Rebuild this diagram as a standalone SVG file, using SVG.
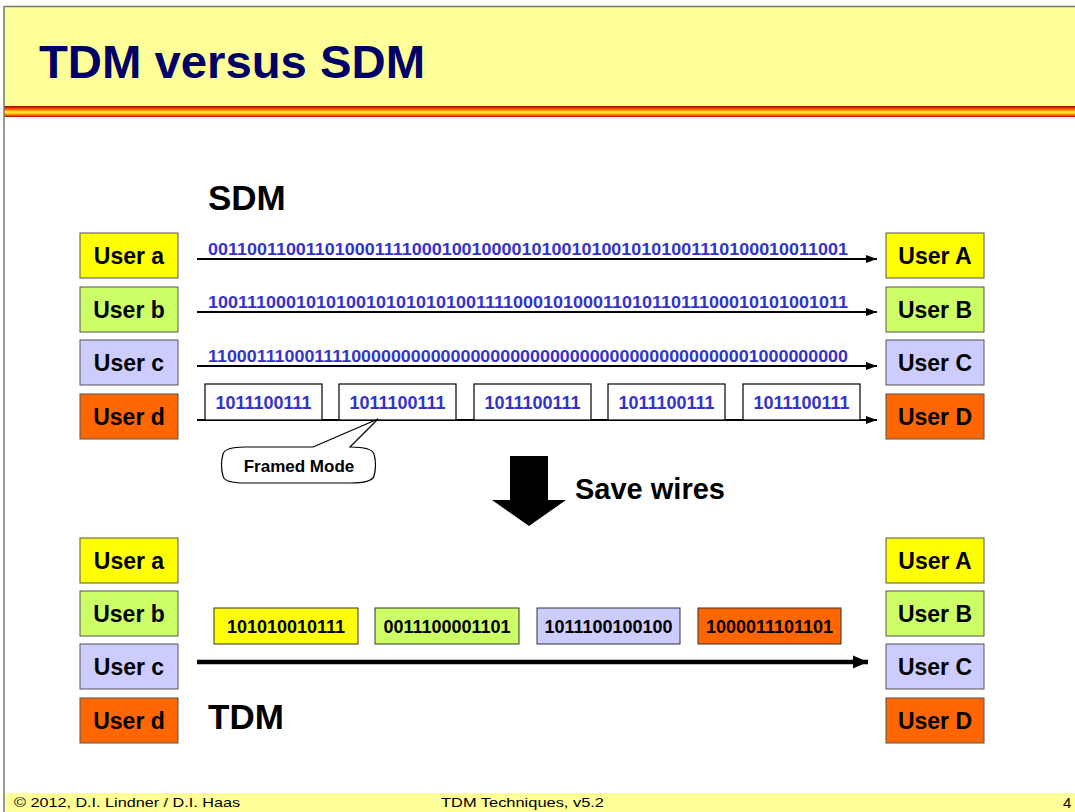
<svg xmlns="http://www.w3.org/2000/svg" width="1075" height="812" viewBox="0 0 1075 812">
<defs>
<linearGradient id="stripe" x1="0" y1="0" x2="0" y2="1">
<stop offset="0" stop-color="#990000"/>
<stop offset="0.2" stop-color="#FF3300"/>
<stop offset="0.4" stop-color="#FF9900"/>
<stop offset="0.55" stop-color="#FFFF33"/>
<stop offset="0.75" stop-color="#FF9900"/>
<stop offset="1" stop-color="#CC0000"/>
</linearGradient>
<marker id="ah" markerWidth="12" markerHeight="10" refX="11" refY="5" orient="auto" markerUnits="userSpaceOnUse">
<path d="M0,1 L11,5 L0,9 Z" fill="#000"/>
</marker>
<marker id="ahb" markerWidth="16" markerHeight="14" refX="15" refY="7" orient="auto" markerUnits="userSpaceOnUse">
<path d="M0,0.5 L15,7 L0,13.5 Z" fill="#000"/>
</marker>
</defs>
<style>
.user{stroke:#555;stroke-width:1}
.ut{font-family:"Liberation Sans",Arial,sans-serif;font-weight:bold;font-size:23px;fill:#000;text-anchor:middle}
.ya{fill:#FFFF00}.gb{fill:#CCFF66}.lc{fill:#CCCCFF}.od{fill:#FF6600}
.bits{font-family:"Liberation Sans",Arial,sans-serif;font-weight:bold;font-size:17px;fill:#3333CC}
.fr{fill:#fff;stroke:#000;stroke-width:1.2}
.ft{font-family:"Liberation Sans",Arial,sans-serif;font-weight:bold;font-size:18px;fill:#3333CC;text-anchor:middle}
.pk{stroke:#333;stroke-width:1}
.pt{font-family:"Liberation Sans",Arial,sans-serif;font-weight:bold;font-size:18px;fill:#000;text-anchor:middle}
.big{font-family:"Liberation Sans",Arial,sans-serif;font-weight:bold;fill:#000}
.foot{font-family:"Liberation Sans",Arial,sans-serif;font-size:13px;fill:#000}
.ln{stroke:#000;stroke-width:2;fill:none}
</style>
<rect x="0" y="0" width="1075" height="812" fill="#fff"/>
<!-- header -->
<rect x="4" y="6" width="1071" height="100" fill="#FFFF99"/>
<line x1="4" y1="6.5" x2="1075" y2="6.5" stroke="#777" stroke-width="1.5"/>
<rect x="4" y="106" width="1071" height="11" fill="url(#stripe)"/>
<line x1="4" y1="6" x2="4" y2="812" stroke="#777" stroke-width="1.5"/>
<text x="39" y="78" class="big" font-size="46" style="fill:#000066" textLength="386" lengthAdjust="spacingAndGlyphs">TDM versus SDM</text>
<!-- footer -->
<rect x="5" y="793" width="1070" height="19" fill="#FFFF99"/>
<text x="14" y="807" class="foot" textLength="226" lengthAdjust="spacingAndGlyphs">© 2012, D.I. Lindner / D.I. Haas</text>
<text x="441" y="807" class="foot" textLength="163" lengthAdjust="spacingAndGlyphs">TDM Techniques, v5.2</text>
<text x="1063" y="808" class="foot" style="font-size:15px">4</text>
<!-- labels -->
<text x="208" y="210" class="big" font-size="35">SDM</text>
<text x="575" y="499" class="big" font-size="29">Save wires</text>
<text x="208" y="729" class="big" font-size="35">TDM</text>
<!-- connectors -->
<g id="connectors">
<line class="ln" x1="197" y1="259" x2="877" y2="259" marker-end="url(#ah)"/>
<line class="ln" x1="197" y1="312" x2="877" y2="312" marker-end="url(#ah)"/>
<line class="ln" x1="197" y1="366" x2="877" y2="366" marker-end="url(#ah)"/>
<line class="ln" x1="197" y1="420" x2="877" y2="420" marker-end="url(#ah)"/>
<line x1="197" y1="662" x2="868" y2="662" stroke="#000" stroke-width="4.5" marker-end="url(#ahb)"/>
</g>
<!-- bit streams -->
<g id="streams">
<text class="bits" x="208" y="255" textLength="640" lengthAdjust="spacingAndGlyphs">00110011001101000111100010010000101001010010101001110100010011001</text>
<text class="bits" x="208" y="308" textLength="640" lengthAdjust="spacingAndGlyphs">10011100010101001010101010011110001010001101011011100010101001011</text>
<text class="bits" x="208" y="362" textLength="640" lengthAdjust="spacingAndGlyphs">11000111000111100000000000000000000000000000000000000001000000000</text>
</g>
<!-- frames -->
<g id="frames">
<rect class="fr" x="205" y="384" width="117" height="36"/><text class="ft" x="263.5" y="409">1011100111</text>
<rect class="fr" x="339" y="384" width="117" height="36"/><text class="ft" x="397.5" y="409">1011100111</text>
<rect class="fr" x="474" y="384" width="117" height="36"/><text class="ft" x="532.5" y="409">1011100111</text>
<rect class="fr" x="608" y="384" width="117" height="36"/><text class="ft" x="666.5" y="409">1011100111</text>
<rect class="fr" x="743" y="384" width="117" height="36"/><text class="ft" x="801.5" y="409">1011100111</text>
</g>
<!-- callout -->
<g id="callout">
<path d="M313,447 L378,419 L350,447 Q372,447 374,454 Q377,465 374,476 Q372,483 350,483 L245,483 Q224,483 223,476 Q220,465 223,454 Q225,447 245,447 Z" fill="#fff" stroke="#000" stroke-width="1.2"/>
<text x="299" y="472" class="big" font-size="17" text-anchor="middle">Framed Mode</text>
</g>
<!-- big arrow -->
<g id="down-arrow">
<path d="M510,456 L548,456 L548,500 L566,500 L529,526 L492,500 L510,500 Z" fill="#000"/>
</g>
<!-- SDM users -->
<g id="sdm-user-a"><rect class="user ya" x="80" y="233" width="98" height="45"/><text class="ut" x="129" y="264">User a</text></g>
<g id="sdm-user-b"><rect class="user gb" x="80" y="287" width="98" height="45"/><text class="ut" x="129" y="318">User b</text></g>
<g id="sdm-user-c"><rect class="user lc" x="80" y="340" width="98" height="45"/><text class="ut" x="129" y="371">User c</text></g>
<g id="sdm-user-d"><rect class="user od" x="80" y="394" width="98" height="45"/><text class="ut" x="129" y="425">User d</text></g>
<g id="sdm-user-A"><rect class="user ya" x="886" y="233" width="98" height="45"/><text class="ut" x="935" y="264">User A</text></g>
<g id="sdm-user-B"><rect class="user gb" x="886" y="287" width="98" height="45"/><text class="ut" x="935" y="318">User B</text></g>
<g id="sdm-user-C"><rect class="user lc" x="886" y="340" width="98" height="45"/><text class="ut" x="935" y="371">User C</text></g>
<g id="sdm-user-D"><rect class="user od" x="886" y="394" width="98" height="45"/><text class="ut" x="935" y="425">User D</text></g>
<!-- TDM users -->
<g id="tdm-user-a"><rect class="user ya" x="80" y="538" width="98" height="45"/><text class="ut" x="129" y="569">User a</text></g>
<g id="tdm-user-b"><rect class="user gb" x="80" y="591" width="98" height="45"/><text class="ut" x="129" y="622">User b</text></g>
<g id="tdm-user-c"><rect class="user lc" x="80" y="644" width="98" height="45"/><text class="ut" x="129" y="675">User c</text></g>
<g id="tdm-user-d"><rect class="user od" x="80" y="698" width="98" height="45"/><text class="ut" x="129" y="729">User d</text></g>
<g id="tdm-user-A"><rect class="user ya" x="886" y="538" width="98" height="45"/><text class="ut" x="935" y="569">User A</text></g>
<g id="tdm-user-B"><rect class="user gb" x="886" y="591" width="98" height="45"/><text class="ut" x="935" y="622">User B</text></g>
<g id="tdm-user-C"><rect class="user lc" x="886" y="644" width="98" height="45"/><text class="ut" x="935" y="675">User C</text></g>
<g id="tdm-user-D"><rect class="user od" x="886" y="698" width="98" height="45"/><text class="ut" x="935" y="729">User D</text></g>
<!-- TDM packets -->
<g id="packets">
<rect class="pk ya" x="214" y="608" width="144" height="36"/><text class="pt" x="286" y="633">101010010111</text>
<rect class="pk gb" x="375" y="608" width="144" height="36"/><text class="pt" x="447" y="633">0011100001101</text>
<rect class="pk lc" x="537" y="608" width="143" height="36"/><text class="pt" x="608.5" y="633">1011100100100</text>
<rect class="pk od" x="698" y="608" width="143" height="36"/><text class="pt" x="769.5" y="633">1000011101101</text>
</g>
</svg>
